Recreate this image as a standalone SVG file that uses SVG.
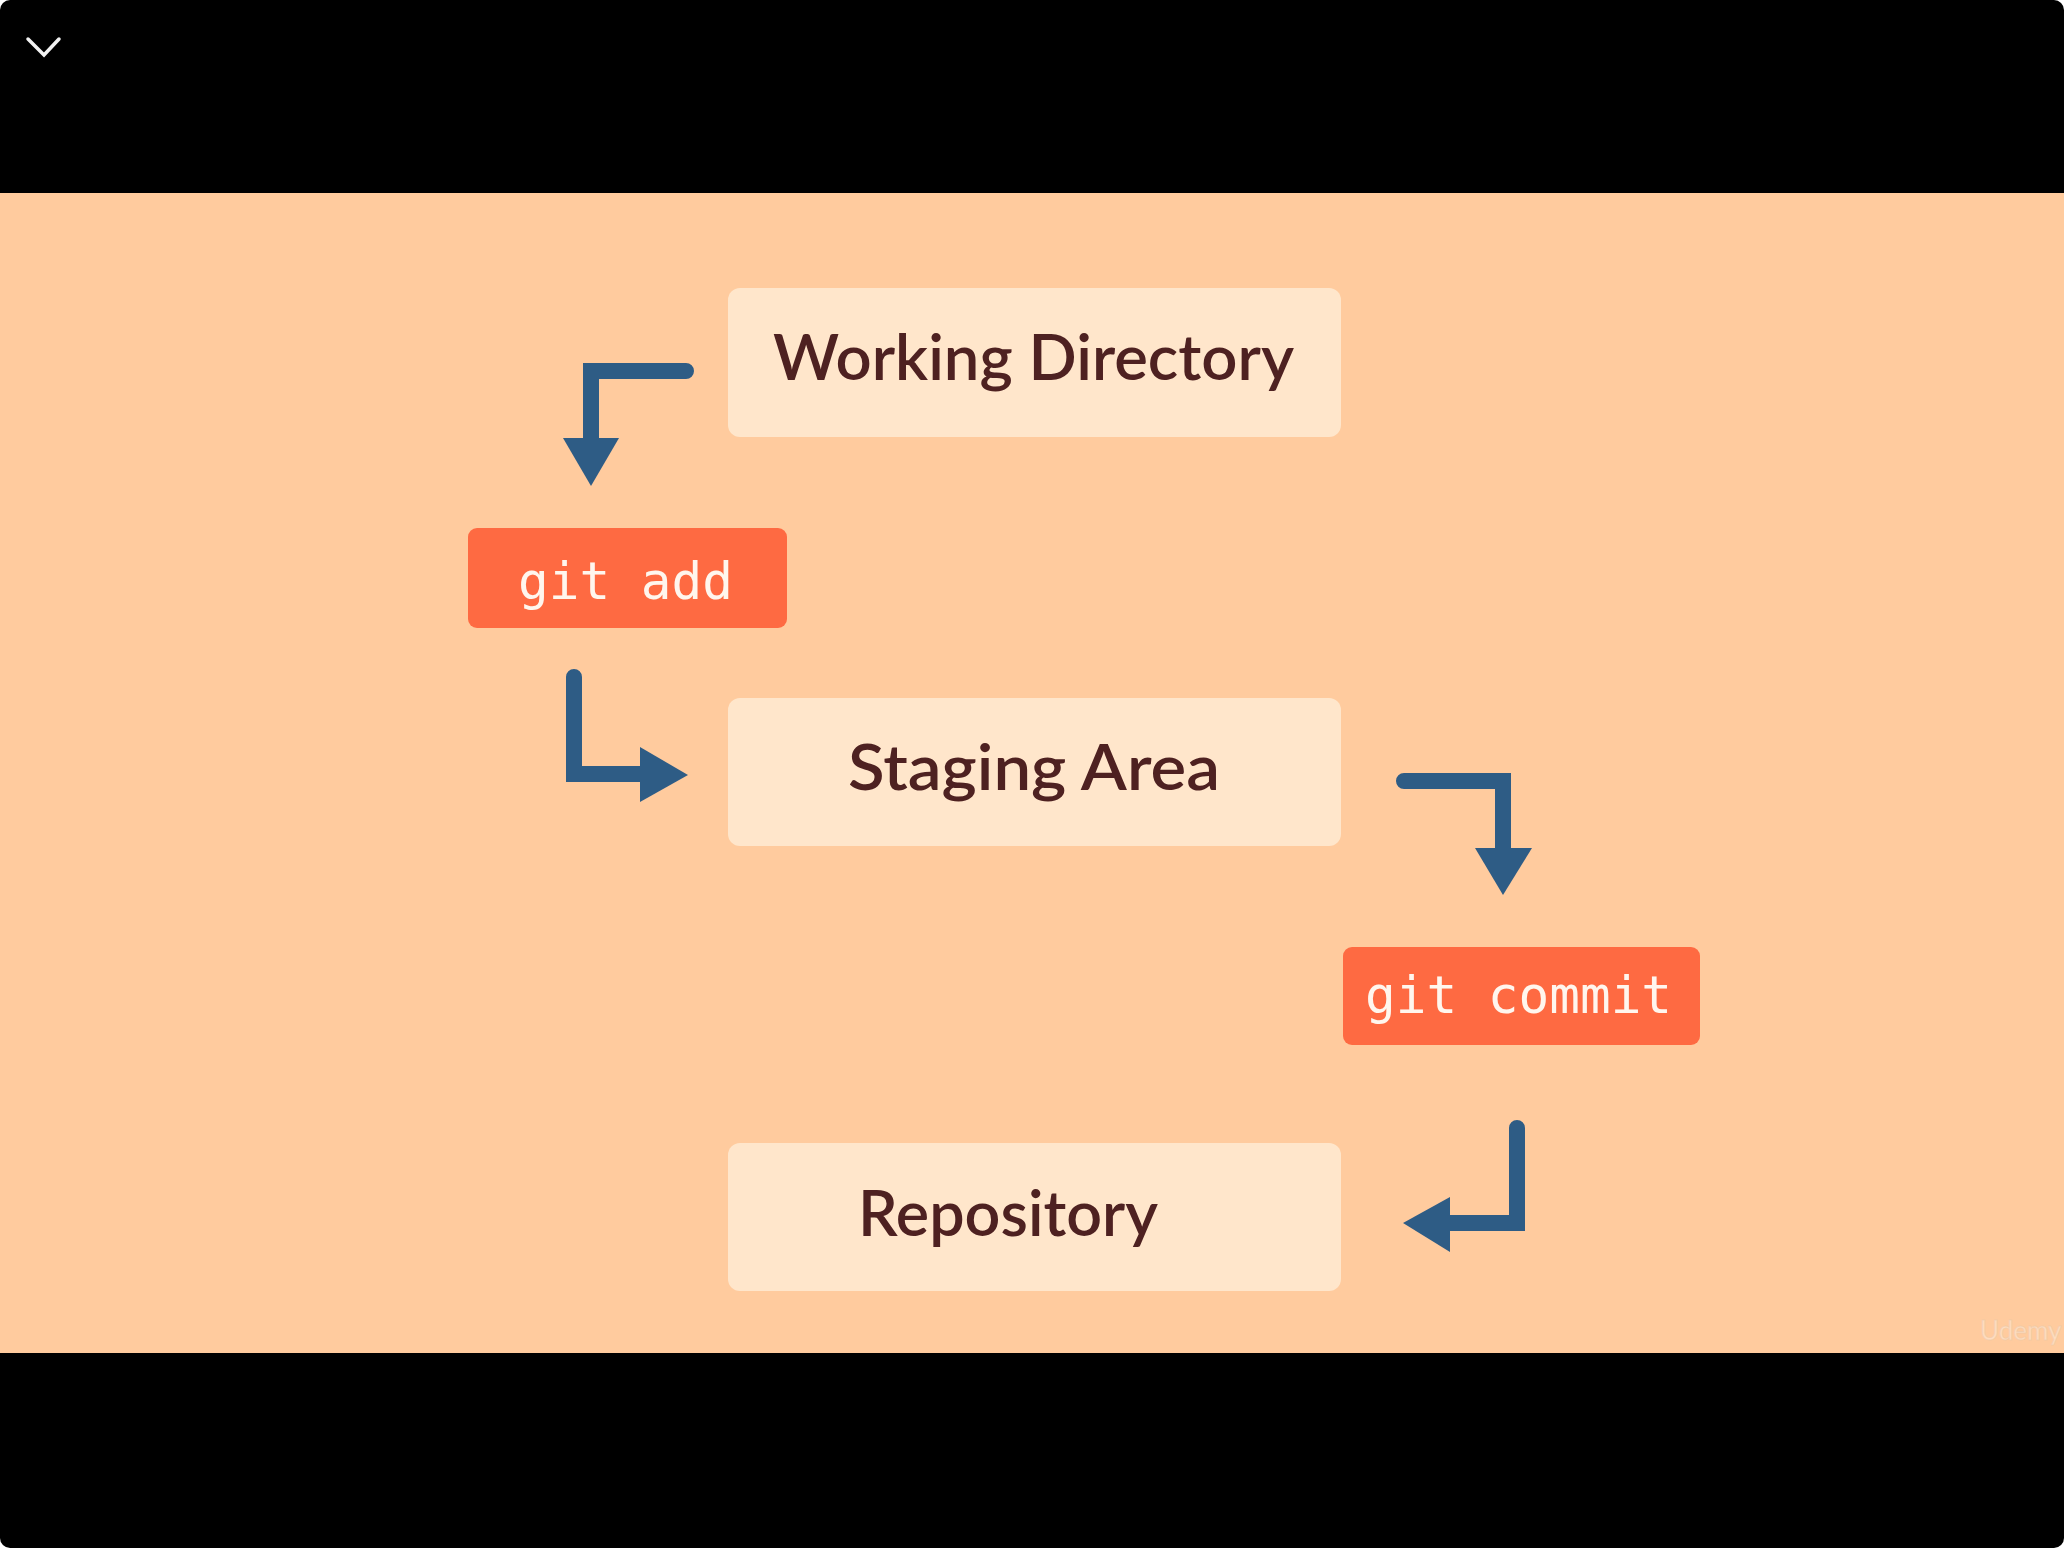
<svg xmlns="http://www.w3.org/2000/svg" width="2064" height="1548" viewBox="0 0 2064 1548">
  <style>
    .stage { fill: #FFE6CB; }
    .cmd { fill: #FE6A42; }
    .label { font-family: Lato, "Noto Sans", sans-serif; font-weight: 600; font-size: 64px; fill: #4E2121; }
    .code { font-family: "DejaVu Sans Mono", "Liberation Mono", monospace; font-size: 51px; fill: #FFF6EE; }
    .conn { fill: none; stroke: #2E5C85; stroke-width: 16; stroke-linecap: round; stroke-linejoin: miter; }
    .head { fill: #2E5C85; }
  </style>
  <rect x="0" y="0" width="2064" height="1548" fill="#FFFFFF"/>
  <rect x="0" y="0" width="2064" height="1548" rx="10" fill="#000000"/>
  <rect x="0" y="193" width="2064" height="1160" fill="#FFCB9E"/>
  <path d="M28 39 L44 55 L59 39" fill="none" stroke="#F2F2F2" stroke-width="3.5" stroke-linecap="round" stroke-linejoin="miter"/>

  <g id="working-directory">
    <rect class="stage" x="728" y="288" width="613" height="149" rx="12"/>
    <text class="label" x="773" y="380" textLength="521" lengthAdjust="spacingAndGlyphs">Working Directory</text>
  </g>
  <g id="git-add">
    <rect class="cmd" x="468" y="528" width="319" height="100" rx="9"/>
    <text class="code" x="518" y="599">git add</text>
  </g>
  <g id="staging-area">
    <rect class="stage" x="728" y="698" width="613" height="148" rx="12"/>
    <text class="label" x="848" y="790" textLength="372" lengthAdjust="spacingAndGlyphs">Staging Area</text>
  </g>
  <g id="git-commit">
    <rect class="cmd" x="1343" y="947" width="357" height="98" rx="9"/>
    <text class="code" x="1365" y="1013">git commit</text>
  </g>
  <g id="repository">
    <rect class="stage" x="728" y="1143" width="613" height="148" rx="12"/>
    <text class="label" x="858" y="1236" textLength="300" lengthAdjust="spacingAndGlyphs">Repository</text>
  </g>

  <g id="connectors">
    <path class="conn" d="M686 371 L591 371 L591 442"/>
    <polygon class="head" points="563,438 619,438 591,486"/>

    <path class="conn" d="M574 677 L574 774 L644 774"/>
    <polygon class="head" points="640,747 640,802 688,775"/>

    <path class="conn" d="M1404 781 L1503 781 L1503 852"/>
    <polygon class="head" points="1475,848 1532,848 1503,895"/>

    <path class="conn" d="M1517 1128 L1517 1223 L1446 1223"/>
    <polygon class="head" points="1450,1197 1450,1252 1403,1223"/>
  </g>

  <text x="1980" y="1340" font-family="Lato, 'Noto Sans', sans-serif" font-size="26" fill="#FFFFFF" fill-opacity="0.35" stroke="#E8C8A8" stroke-width="0.8" stroke-opacity="0.6">Udemy</text>
</svg>
